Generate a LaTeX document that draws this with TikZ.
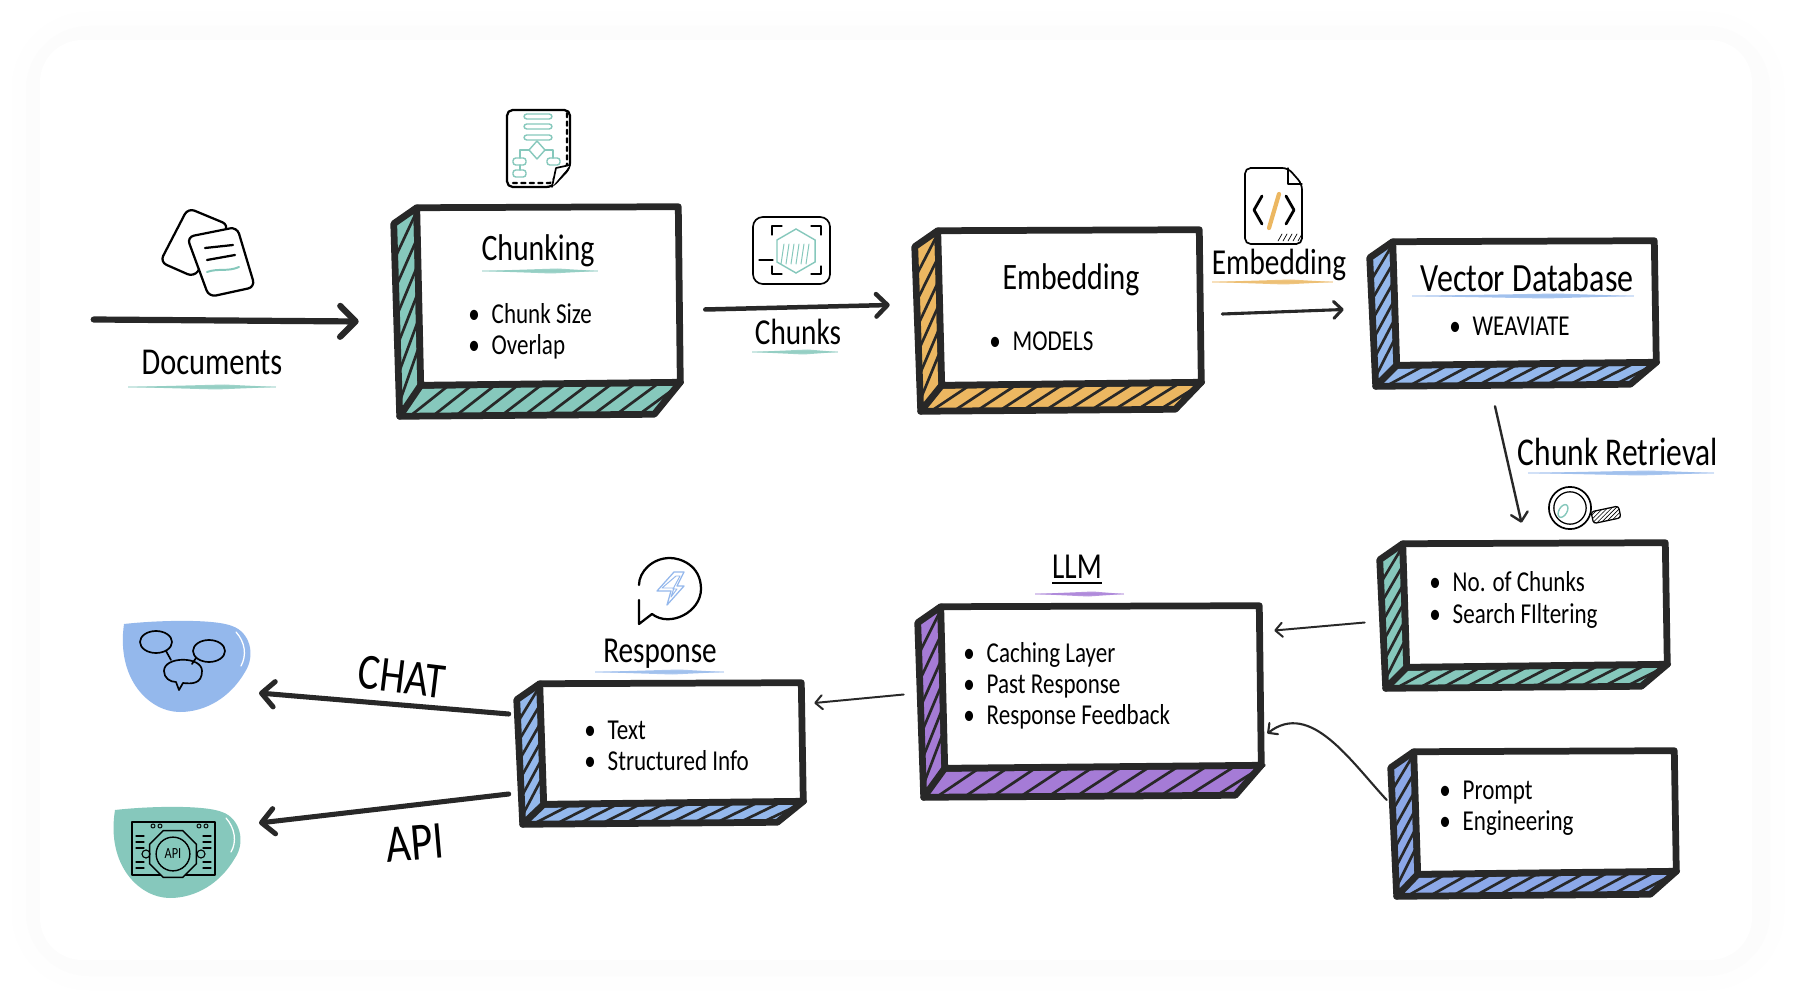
\documentclass[tikz,border=0pt]{standalone}
\usepackage{fontspec}
\setmainfont[FakeStretch=0.8]{Carlito}
\usetikzlibrary{arrows.meta,calc,fit,shapes.geometric,patterns}
\definecolor{ink}{HTML}{282828}
\definecolor{tealbox}{HTML}{86C8BC}
\definecolor{orangebox}{HTML}{ECB761}
\definecolor{bluebox}{HTML}{94B8EC}
\definecolor{violetbox}{HTML}{A57BD6}
\definecolor{promptbox}{HTML}{8CA8E8}
\definecolor{haze}{HTML}{FCFCFC}
\definecolor{hazeout}{HTML}{FEFEFE}
% box with a hatched left and bottom side: name, x0, y0, x1, y1, colour, depth
\newcommand{\sketchbox}[7]{%
  \coordinate (#1-a) at (#2,#3);
  \coordinate (#1-b) at (#4,#5);
  \node[fit=(#1-a)(#1-b), inner sep=0pt] (#1) {};
  \coordinate (#1-tl) at ($(#1.north west)+(0,5)$);
  \coordinate (#1-tr) at ($(#1.north east)+(-5,4)$);
  \coordinate (#1-br) at ($(#1.south east)+(-3,-6)$);
  \coordinate (#1-bl) at ($(#1.south west)+(4,-3)$);
  \coordinate (#1-lt) at ($(#1.north west)+(-23,21)$);
  \coordinate (#1-lb) at ($(#1.south west)+(-17,#7-4)$);
  \coordinate (#1-rb) at ($(#1.south east)+(-29,#7-6)$);
  \fill[#6] (#1-lt) -- (#1-tl) -- (#1-br) -- (#1-rb) -- (#1-lb) -- cycle;
  \foreach \t in {0.02,0.17,...,0.9} {
    \draw[hatch] ($(#1-lt)!\t+0.16!(#1-lb)$) -- ($(#1-tl)!\t!(#1-bl)$);
  }
  \foreach \t in {0.04,0.13,...,0.95} {
    \draw[hatch] ($(#1-lb)!\t!(#1-rb)$) -- ($(#1-bl)!\t+0.07!(#1-br)$);
  }
  \draw[boxline] (#1-lt) -- (#1-tl) -- (#1-bl) -- (#1-lb) -- cycle;
  \draw[boxline] (#1-bl) -- (#1-br) -- (#1-rb) -- (#1-lb);
  \draw[boxline, fill=white] (#1-tl) -- (#1-tr) -- (#1-br) -- (#1-bl) -- cycle;
}
% brush stroke under a label: x0, x1, y, colour
\newcommand{\brush}[4]{%
  \fill[#4, opacity=0.8] (#1,#3) -- ($(#1,#3)!0.65!(#2,#3)+(0,-2.5)$) -- (#2,#3)
    -- ($(#1,#3)!0.6!(#2,#3)+(0,2.5)$) -- cycle;
  \draw[#4, opacity=0.35, line width=0.8pt] (#1,#3) -- (#2,#3);
}
\begin{document}
\begin{tikzpicture}[
  x=0.25mm, y=-0.25mm,
  boxline/.style={draw=ink, line width=4.8pt, line join=round, line cap=round},
  hatch/.style={draw=ink, line width=1.9pt, line cap=round},
  flow/.style={draw=ink, line cap=round, line join=round, -{Straight Barb[round, length=#1, width=2*#1]}},
  flow/.default=6pt,
  hdr/.style={font=\fontsize{26.5}{26.5}\selectfont, text=black, inner sep=0pt},
  lbl/.style={font=\fontsize{26}{26}\selectfont, text=black, inner sep=0pt},
  lst/.style={font=\fontsize{20.5}{22.2}\selectfont, text=black, align=left, anchor=west, inner sep=0pt},
  ico/.style={draw=black, line width=1.2pt, line join=round, line cap=round},
  icot/.style={draw=#1, line width=1pt, line join=round, line cap=round},
]
\useasboundingbox (0,0) rectangle (1796,1002);
% panel
\fill[white] (0,0) rectangle (1796,1002);
\fill[hazeout, rounded corners=55pt] (12,12) rectangle (1784,990);
\fill[haze, rounded corners=45pt] (26,26) rectangle (1770,976);
\fill[white, rounded corners=30pt] (40,40) rectangle (1752,960);
% boxes
\sketchbox{chunking}{417}{203}{683}{388}{tealbox}{32}
\sketchbox{embedding}{938}{226}{1204}{388}{orangebox}{27}
\sketchbox{vectordb}{1393}{237}{1659}{368}{bluebox}{22}
\sketchbox{retrieval}{1403}{539}{1670}{670}{tealbox}{22}
\sketchbox{llm}{941}{602}{1264}{771}{violetbox}{30}
\sketchbox{response}{540}{679}{806}{807}{bluebox}{21}
\sketchbox{prompt}{1414}{747}{1679}{877}{promptbox}{23}
% box texts
\node[hdr] (chunkinghdr) at (538,251) {Chunking};
\brush{482}{598}{271}{tealbox}
\node[lst] (chunkinglst) at (468,331) {•\hspace{8.5pt}Chunk Size\\•\hspace{8.5pt}Overlap};
\node[hdr] (embeddinghdr) at (1071,280) {Embedding};
\node[lst] (embeddinglst) at (989,341) {•\hspace{8.5pt}MODELS};
\node[hdr, font=\fontsize{28.5}{28.5}\selectfont] (vectordbhdr) at (1527,278) {Vector Database};
\brush{1412}{1634}{296}{bluebox}
\node[lst] (vectordblst) at (1449,326) {•\hspace{8.5pt}WEAVIATE};
\node[lst] (retrievallst) at (1429,600) {•\hspace{8.5pt}No. of Chunks\\•\hspace{8.5pt}Search FIltering};
\node[lst] (llmlst) at (963,686) {•\hspace{8.5pt}Caching Layer\\•\hspace{8.5pt}Past Response\\•\hspace{8.5pt}Response Feedback};
\node[lst] (responselst) at (584,746) {•\hspace{8.5pt}Text\\•\hspace{8.5pt}Structured Info};
\node[lst] (promptlst) at (1439,808) {•\hspace{8.5pt}Prompt\\•\hspace{8.5pt}Engineering};
% labels
\node[lbl, font=\fontsize{27}{27}\selectfont] (documentslbl) at (212,362) {Documents};
\brush{128}{276}{387}{tealbox}
\node[lbl] (chunkslbl) at (798,332) {Chunks};
\brush{752}{838}{352}{tealbox}
\node[lbl] (embedlbl) at (1279,265) {Embedding};
\brush{1212}{1333}{282}{orangebox}
\node[lbl, font=\fontsize{28}{28}\selectfont] (retrievallbl) at (1618,452) {Chunk Retrieval};
\brush{1528}{1714}{473}{bluebox}
\node[lbl] (llmlbl) at (1077,567) {LLM};
\draw[black, line width=1pt] (1052,583) -- (1102,583);
\brush{1035}{1124}{594}{violetbox}
\node[lbl] (responselbl) at (660,654) {Response};
\brush{595}{724}{672}{bluebox}
\node[lbl, rotate=-7, font=\fontsize{36}{36}\selectfont] (chatlbl) at (402,677) {CHAT};
\node[lbl, rotate=5, font=\fontsize{38}{38}\selectfont] (apilbl) at (415,843) {API};
% blobs
\fill[bluebox] (124,624) .. controls (160,620) and (215,619) .. (232,626)
  .. controls (250,632) and (256,655) .. (245,672)
  .. controls (230,698) and (205,712) .. (180,712)
  .. controls (150,712) and (116,680) .. (124,624) -- cycle;
\draw[white, line width=0.9pt, line cap=round] (236,632) .. controls (245,642) and (247,655) .. (241,666);
\fill[tealbox] (115,810) .. controls (150,806) and (205,805) .. (222,812)
  .. controls (240,818) and (246,842) .. (235,858)
  .. controls (220,884) and (195,898) .. (170,898)
  .. controls (140,898) and (106,866) .. (115,810) -- cycle;
\draw[white, line width=0.9pt, line cap=round] (226,818) .. controls (235,828) and (237,842) .. (231,852);
\coordinate (chatblob) at (259,693);
\coordinate (apiblob) at (259,823);
% connectors
\draw[flow=11pt, line width=4.4pt] ($(chunking.west)+(-323,24)$) -- ($(chunking.west)+(-58,26)$);
\draw[flow=8pt, line width=3.2pt] ($(chunking.east)+(22,14)$) -- ($(embedding.west)+(-48,-2)$);
\draw[flow=6pt, line width=2.2pt] ($(embedding.east)+(18,7)$) -- ($(vectordb.west)+(-49,7)$);
\draw[flow=6pt, line width=1.7pt] ($(vectordb.south)+(-31,38)$) -- ($(retrieval.north)+(-15,-16)$);
\draw[flow=5pt, line width=1.4pt] ($(retrieval.west)+(-38,18)$) -- ($(llm.east)+(10,-56)$);
\draw[flow=5pt, line width=1.4pt] ($(llm.west)+(-37,8)$) -- ($(response.east)+(8,-40)$);
\draw[flow=5pt, line width=1.5pt] ($(prompt.west)+(-27,-12)$)
  .. controls ($(prompt.west)+(-64,-52)$) and ($(llm.east)+(46,14)$) .. ($(llm.east)+(3,47)$);
\draw[flow=9pt, line width=3.6pt] ($(response.west)+(-31,-29)$) -- (chatblob);
\draw[flow=9pt, line width=3.6pt] ($(response.west)+(-31,51)$) -- (apiblob);
% stacked pages
\draw[ico, rounded corners=5pt, line width=1.6pt] (188,208) -- (229,225) -- (194,277) -- (160,262) -- cycle;
\draw[ico, fill=white, rounded corners=5pt, line width=1.6pt] (187,237) -- (237,227) -- (255,287) -- (209,297) -- cycle;
\draw[ico, line width=1.6pt] (205,248) -- (233,245);
\draw[ico, line width=1.6pt] (207,260) -- (235,255);
\draw[icot=tealbox, line width=1.4pt] (207,272) .. controls (218,268) and (228,272) .. (239,267);
% page with flow chart
\draw[ico, rounded corners=4pt, line width=1.6pt] (507,110) -- (570,110) -- (570,168) -- (552,187) -- (507,187) -- cycle;
\draw[ico, dashed, line width=1.6pt] (567,113) -- (567,165) -- (550,183) -- (512,183);
\draw[ico, fill=white] (570,165) -- (556,168) -- (552,187);
\foreach \y in {114,124,135} {
  \draw[icot=tealbox, rounded corners=2pt] (524,\y) rectangle (552,\y+5);
}
\draw[icot=tealbox] (537,141) -- (545,150) -- (537,159) -- (529,150) -- cycle;
\draw[icot=tealbox] (529,150) -- (520,150) -- (520,158);
\draw[icot=tealbox] (545,150) -- (553,150) -- (553,158);
\draw[icot=tealbox, rounded corners=2pt] (513,158) rectangle (526,165);
\draw[icot=tealbox, rounded corners=2pt] (513,170) rectangle (526,177);
\draw[icot=tealbox, rounded corners=2pt] (547,158) rectangle (560,165);
\draw[icot=tealbox] (520,165) -- (520,170);
% cube in a frame
\draw[ico, rounded corners=7pt] (753,217) rectangle (830,284);
\draw[ico, line width=0.9pt] (772,235) -- (772,226) -- (782,226);
\draw[ico, line width=0.9pt] (811,226) -- (821,226) -- (821,235);
\draw[ico, line width=0.9pt] (772,266) -- (772,274) -- (782,274);
\draw[ico, line width=0.9pt] (811,274) -- (821,274) -- (821,266);
\draw[ico, line width=0.9pt] (759,260) -- (773,260);
\node[regular polygon, regular polygon sides=6, shape border rotate=30, draw=tealbox, line width=1pt,
  inner sep=0pt, minimum size=44pt*0.711] (cubehex) at (796,251) {};
\foreach \x in {781,786,...,806} {
  \draw[icot=tealbox, line width=0.7pt] (\x,264) -- (\x+3,244);
}
% code sheet
\draw[ico, rounded corners=4pt] (1245,168) -- (1288,168) -- (1302,184) -- (1302,244) -- (1245,244) -- cycle;
\draw[ico, line width=0.9pt] (1288,168) -- (1288,184) -- (1302,184);
\draw[ico, line width=2pt] (1262,196) -- (1254,210) -- (1262,224);
\draw[ico, line width=2pt] (1286,196) -- (1294,210) -- (1286,224);
\draw[orangebox, line width=3pt, line cap=round] (1269,228) -- (1279,194);
\foreach \x in {1278,1283,...,1298} {
  \draw[ico, line width=0.5pt] (\x,241) -- (\x+4,234);
}
% magnifier
\draw[ico, pattern=north east lines, line width=0.9pt, rotate around={12:(1605,515)}, rounded corners=2pt] (1592,509) rectangle (1620,521);
\node[circle, draw=black, fill=white, line width=1.2pt, minimum size=30pt, inner sep=0pt] (lensouter) at (1570,508) {};
\node[circle, draw=black, line width=0.9pt, minimum size=23pt, inner sep=0pt] (lensinner) at (1570,508) {};
\draw[icot=tealbox, rotate around={-30:(1563,511)}] (1563,511) ellipse (4 and 7);
% speech bubble with bolt
\draw[ico, line width=1.6pt] (639,600) -- (639,624) -- (652,614)
  .. controls (670,628) and (701,612) .. (701,589)
  .. controls (701,565) and (680,558) .. (670,558)
  .. controls (652,558) and (639,572) .. (639,585);
\draw[bluebox, line width=0.9pt, line join=round] (674,572) -- (684,572) -- (677,586) -- (684,586) -- (667,605) -- (671,591) -- (657,591) -- cycle;
\draw[bluebox, line width=0.7pt, line join=round] (676,576) -- (680,576) -- (673,589) -- (677,589) -- (671,597) -- (674,588) -- (662,588) -- cycle;
% chat bubbles
\draw[ico] (156,642) ellipse (16 and 11);
\draw[ico] (209,651) ellipse (16 and 11);
\draw[ico] (166,651) -- (171,660);
\draw[ico] (196,658) -- (192,664);
\draw[ico] (164,671) .. controls (164,656) and (202,656) .. (202,671)
  .. controls (202,684) and (192,684) .. (183,683) -- (179,690) -- (176,682)
  .. controls (170,682) and (164,678) .. (164,671) -- cycle;
% api window
\draw[ico, line width=1pt] (132,822) rectangle (215,875);
\foreach \y in {836,842,848,862,868} {
  \draw[ico, line width=0.8pt] (136,\y) -- (144,\y);
  \draw[ico, line width=0.8pt] (203,\y) -- (211,\y);
}
\foreach \x in {153,160,199,206} {
  \draw[ico, line width=0.7pt] (\x,826) circle (2);
}
\node[regular polygon, regular polygon sides=8, fill=tealbox, draw=black, line width=1pt,
  inner sep=0pt, minimum size=36pt] (apigear) at (173,854) {};
\node[circle, draw=black, line width=1pt, minimum size=24pt, inner sep=0pt,
  font=\fontsize{11}{11}\selectfont] (apicore) at (173,854) {API};
\draw[ico, line width=0.8pt] (146,854) circle (4);
\draw[ico, line width=0.8pt] (201,854) circle (4);
\end{tikzpicture}
\end{document}
